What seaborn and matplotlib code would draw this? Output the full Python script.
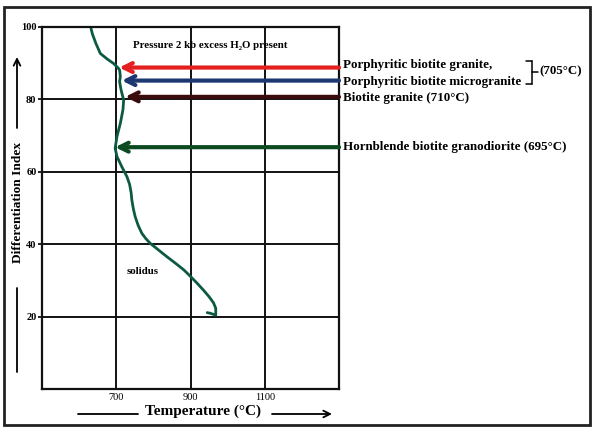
import numpy as np
import pandas as pd
import matplotlib
matplotlib.use("Agg")
import matplotlib.pyplot as plt
from matplotlib.patches import Rectangle
from matplotlib.lines import Line2D
import seaborn as sns

# solidus curve (temperature, differentiation index)
solidus_temp = [632, 636, 645, 657, 675, 693, 705, 709, 711, 709, 713, 720, 718, 711, 702, 697,
                702, 715, 729, 736, 740, 742, 746, 751, 759, 769, 780, 792, 815, 837, 860,
                882, 900, 918, 935, 950, 962, 968, 968, 954, 945]
solidus_di = [99.6, 98.0, 95.5, 92.7, 91.2, 89.9, 88.7, 88.1, 86.3, 84.9, 82.6, 79.8, 77.1,
              73.4, 69.8, 66.5, 64.2, 61.4, 58.6, 56.5, 54.3, 52.2, 49.8, 47.6, 45.2, 43.0,
              41.5, 40.2, 38.3, 36.5, 34.7, 32.9, 31.1, 29.2, 27.3, 25.5, 23.8, 22.3, 20.4,
              20.9, 21.1]

# rock types: arrow tip temperature and differentiation index
rock_tip_temp = [708, 715, 724, 697]
rock_di = [88.8, 85.2, 80.7, 66.8]
rock_colors = ["#e3201f", "#1d3870", "#3a0c0c", "#0d4a22"]
rock_labels = ["Porphyritic biotite granite,",
               "Porphyritic biotite microgranite",
               "Biotite granite (710\u00b0C)",
               "Hornblende biotite granodiorite (695\u00b0C)"]

x_ticks = [700, 900, 1100]
y_ticks = [20, 40, 60, 80, 100]

sns.set_style("white")
plt.rcParams["font.family"] = ["Liberation Serif", "DejaVu Serif"]
plt.rcParams["text.color"] = "black"
plt.rcParams["xtick.color"] = "black"
plt.rcParams["ytick.color"] = "black"

W, H = 594, 433
fig = plt.figure(figsize=(W / 100, H / 100), dpi=100)
ax = fig.add_axes([42 / W, 1 - 389 / H, 297 / W, 362 / H])

df = pd.DataFrame({"temp": solidus_temp, "di": solidus_di})
sns.lineplot(data=df, x="temp", y="di", sort=False, estimator=None,
             color="#0c5a44", lw=2, ax=ax)

ax.set_xlim(500, 1300)
ax.set_ylim(0, 100)
ax.set_xticks(x_ticks)
ax.set_yticks(y_ticks)
ax.set_xticklabels([str(t) for t in x_ticks], fontsize=7.5)
ax.set_yticklabels([str(t) for t in y_ticks], fontsize=7.5, fontweight="bold")
ax.tick_params(axis="x", length=0, pad=3)
ax.tick_params(axis="y", length=3, width=1.2, direction="out", pad=1, left=True)
ax.grid(True, color="#111111", lw=1.4)
ax.set_axisbelow(True)
for s in ax.spines.values():
    s.set_color("#111111")
    s.set_linewidth(1.6)
ax.set_xlabel("")
ax.set_ylabel("")

# arrows from each rock type to the solidus
for tip, di, c in zip(rock_tip_temp, rock_di, rock_colors):
    ax.annotate("", xy=(tip, di), xytext=(1300, di),
                arrowprops=dict(arrowstyle="->", lw=3, color=c,
                                mutation_scale=16, shrinkA=0, shrinkB=0))

# labels to the right of the axes
label_y = [89.4, 84.8, 80.5, 66.9]
for lab, y in zip(rock_labels, label_y):
    ax.text(1311, y, lab, fontsize=9.4, fontweight="bold", va="center",
            ha="left", clip_on=False)

ax.text(746, 95, "Pressure 2 kb excess H\u2082O present", fontsize=7.8,
        fontweight="bold", va="center", ha="left")
ax.text(770, 32.4, "solidus", fontsize=7.8, fontweight="bold", va="center", ha="center")

# bracket for the two porphyritic rocks
def px(x, y):
    return (x / W, 1 - y / H)

bx = 532
for seg in [((526, 61), (bx, 61)), ((bx, 61), (bx, 84)), ((526, 84), (bx, 84)),
            ((bx, 72), (538, 72))]:
    (x0, y0), (x1, y1) = px(*seg[0]), px(*seg[1])
    fig.add_artist(Line2D([x0, x1], [y0, y1], color="black", lw=1.1))
fig.text(539 / W, 1 - 71 / H, "(705\u00b0C)", fontsize=9.3, fontweight="bold",
         va="center", ha="left")

# axis titles with arrows
fig.text(203 / W, 1 - 411 / H, "Temperature (\u00b0C)", fontsize=11,
         fontweight="bold", ha="center", va="center")
fig.add_artist(Line2D([78 / W, 138 / W], [1 - 414 / H] * 2, color="black", lw=1.3))
ax.annotate("", xy=px(332, 414), xytext=px(272, 414),
            xycoords="figure fraction", textcoords="figure fraction",
            arrowprops=dict(arrowstyle="->", lw=1.3, color="black",
                            mutation_scale=12, shrinkA=0, shrinkB=0))

fig.text(18 / W, 1 - 202 / H, "Differentiation Index", fontsize=9.6,
         fontweight="bold", rotation=90, ha="center", va="center")
fig.add_artist(Line2D([17 / W, 17 / W], [1 - 288 / H, 1 - 372 / H], color="black", lw=1.3))
ax.annotate("", xy=px(17, 57), xytext=px(17, 128),
            xycoords="figure fraction", textcoords="figure fraction",
            arrowprops=dict(arrowstyle="->", lw=1.3, color="black",
                            mutation_scale=12, shrinkA=0, shrinkB=0))

# outer frame
fig.add_artist(Rectangle(px(4, 425), 586 / W, 418 / H, fill=False,
                         edgecolor="#222222", lw=2, transform=fig.transFigure))

fig.savefig("out.png", dpi=100)
